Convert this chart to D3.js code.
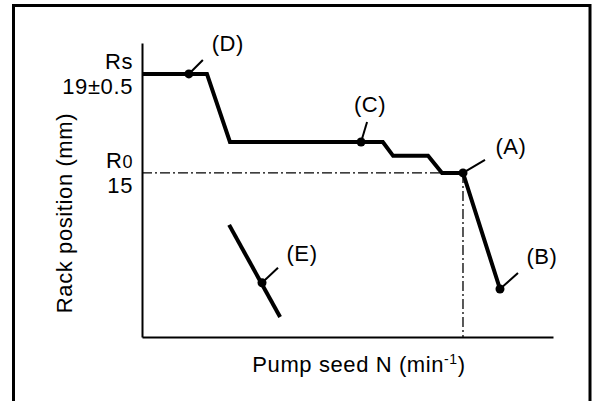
<!DOCTYPE html>
<html>
<head>
<meta charset="utf-8">
<script src="https://cdn.jsdelivr.net/npm/d3@7"></script>
<style>
  html, body { margin: 0; padding: 0; background: #fff; }
  svg { display: block; font-family: "Liberation Sans", Arial, sans-serif; }
  svg text { letter-spacing: 0.6px; }
</style>
</head>
<body>
<svg id="chart" width="592" height="401"></svg>
<script>
// Governor characteristic: pump speed (relative units) vs rack position (mm)
const speedN   = [0, 15.8, 21.4, 58.6, 61.1, 69.6, 73.0, 78.1, 87.1];
const rackMm   = [19, 19, 16.25, 16.25, 15.69, 15.69, 15, 15, 10.31];

// Separate short characteristic segment (E)
const segESpeed = [21.2, 33.6];
const segERack  = [12.9, 9.18];

// Marked points with their letters
const pointNames = ["(D)", "(C)", "(A)", "(B)", "(E)"];
const pointSpeed = [11.4, 53.3, 78.1, 87.1, 29.2];
const pointRack  = [19, 16.25, 15, 10.31, 10.56];

// Reference levels on the rack axis
const refRack   = [19, 15];
const refTop    = ["Rs", "R0"];
const refBottom = ["19±0.5", "15"];
const ratedSpeed = 78.1;

const svg = d3.select("#chart");
const margin = { left: 142, right: 39, top: 43, bottom: 64 };
const W = 592, H = 401;
const FS = 22;

const x = d3.scaleLinear().domain([0, 100]).range([margin.left, W - margin.right]);
const y = d3.scaleLinear().domain([8.37, 20.25]).range([H - margin.bottom, margin.top]);

// outer frame (open at the bottom edge)
svg.append("rect")
  .attr("x", 13.5).attr("y", 5.5)
  .attr("width", 576.5).attr("height", 420)
  .attr("fill", "none").attr("stroke", "#000").attr("stroke-width", 3);

// axes
const xAxis = d3.axisBottom(x).tickValues([]).tickSizeOuter(0);
const yAxis = d3.axisLeft(y).tickValues([]).tickSizeOuter(0);
svg.append("g").attr("transform", `translate(0,${y.range()[0]})`).call(xAxis)
  .select(".domain").attr("stroke-width", 2);
svg.append("g").attr("transform", `translate(${x.range()[0]},0)`).call(yAxis)
  .select(".domain").attr("stroke-width", 2);

// dash-dot guides to the rated point
const guide = "10,3,2,3";
svg.append("line")
  .attr("x1", x(0)).attr("x2", x(ratedSpeed))
  .attr("y1", y(refRack[1])).attr("y2", y(refRack[1]))
  .attr("stroke", "#000").attr("stroke-width", 1.3).attr("stroke-dasharray", guide);
svg.append("line")
  .attr("x1", x(ratedSpeed)).attr("x2", x(ratedSpeed))
  .attr("y1", y(refRack[1])).attr("y2", y.range()[0])
  .attr("stroke", "#000").attr("stroke-width", 1.3).attr("stroke-dasharray", guide);

// characteristic curve
const line = d3.line().x(d => x(d[0])).y(d => y(d[1]));
svg.append("path")
  .datum(d3.zip(speedN, rackMm))
  .attr("d", line)
  .attr("fill", "none").attr("stroke", "#000").attr("stroke-width", 4)
  .attr("stroke-linejoin", "miter");
svg.append("path")
  .datum(d3.zip(segESpeed, segERack))
  .attr("d", line)
  .attr("fill", "none").attr("stroke", "#000").attr("stroke-width", 4);

// points with leader lines and letters
const leader = [[14, -14], [6, -20], [22, -13], [18, -16], [16, -15]];
const labelOff = [[39, -23], [9, -30], [48, -19], [42, -25], [40, -22]];
const pts = pointNames.map((n, i) => ({ n, sx: pointSpeed[i], r: pointRack[i], l: leader[i], o: labelOff[i] }));

const g = svg.append("g");
g.selectAll("line.leader").data(pts).join("line")
  .attr("x1", d => x(d.sx)).attr("y1", d => y(d.r))
  .attr("x2", d => x(d.sx) + d.l[0]).attr("y2", d => y(d.r) + d.l[1])
  .attr("stroke", "#000").attr("stroke-width", 2);
g.selectAll("circle").data(pts).join("circle")
  .attr("cx", d => x(d.sx)).attr("cy", d => y(d.r)).attr("r", 4.5).attr("fill", "#000");
g.selectAll("text").data(pts).join("text")
  .attr("x", d => x(d.sx) + d.o[0]).attr("y", d => y(d.r) + d.o[1])
  .attr("text-anchor", "middle")
  .attr("font-size", FS).text(d => d.n);

// rack level labels
refRack.forEach((v, i) => {
  const t = svg.append("text")
    .attr("x", x(0) - 9).attr("y", y(v) - 5)
    .attr("text-anchor", "end").attr("font-size", FS);
  if (refTop[i] === "R0") {
    t.append("tspan").text("R");
    t.append("tspan").attr("font-size", 18).text("0");
  } else {
    t.text(refTop[i]);
  }
  svg.append("text")
    .attr("x", x(0) - 9).attr("y", y(v) + 20)
    .attr("text-anchor", "end").attr("font-size", FS)
    .text(refBottom[i]);
});

// axis titles
const xt = svg.append("text")
  .attr("x", 359).attr("y", 372)
  .attr("text-anchor", "middle").attr("font-size", FS);
xt.append("tspan").text("Pump seed N (min");
xt.append("tspan").attr("font-size", 14).attr("dy", -8).text("-1");
xt.append("tspan").attr("dy", 8).text(")");

svg.append("text")
  .attr("transform", `translate(72,213) rotate(-90)`)
  .attr("text-anchor", "middle").attr("font-size", FS)
  .text("Rack position (mm)");
</script>
</body>
</html>
